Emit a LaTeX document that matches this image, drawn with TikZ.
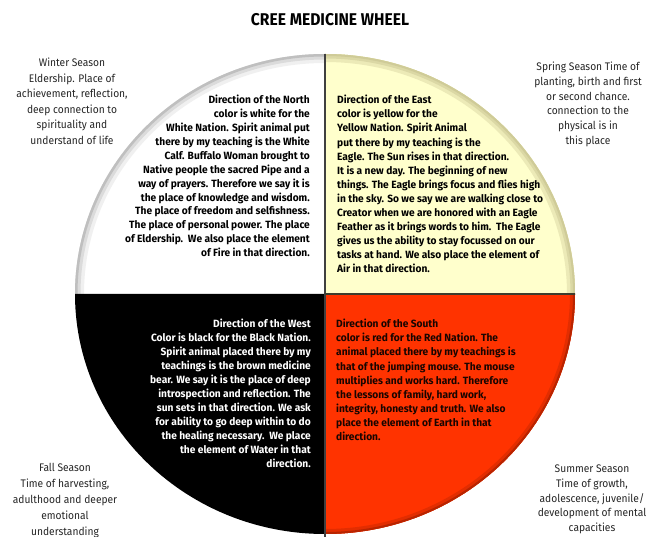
\documentclass[tikz,border=0pt]{standalone}
\usepackage{fontspec}
\setmainfont{Fira Sans}
\newfontfamily\qfont[FakeStretch=0.97]{Fira Sans}
\newfontfamily\sfont[FakeStretch=0.93]{Fira Sans}
\newfontfamily\tfont[FakeStretch=0.92]{Fira Sans}
\definecolor{wyellow}{HTML}{FFFFCC}
\definecolor{wred}{HTML}{FF3300}
\definecolor{wkhaki}{HTML}{CFCB98}
\definecolor{wdred}{HTML}{B82400}
\begin{document}
\begin{tikzpicture}[x=1pt,y=-1pt,
  quad/.style={inner sep=0pt, font=\qfont\bfseries\fontsize{10.5}{13.9}\selectfont},
  season/.style={inner sep=0pt, align=center, font=\sfont\fontsize{11}{15.5}\selectfont, text=black!85},
  divider/.style={draw=black!75, line width=1.6pt}]
\useasboundingbox[fill=white] (0,0) rectangle (646,537);
\coordinate (c) at (325,294);
% quadrants
\fill[white] (c) -- (75,294) arc[start angle=180,end angle=270,x radius=250,y radius=240] -- cycle;
\begin{scope}
  \clip (c) -- (75,294) arc[start angle=180,end angle=270,x radius=250,y radius=240] -- cycle;
  \draw[gray!12, line width=18pt] (c) ellipse[x radius=250,y radius=240];
  \draw[gray!28, line width=11pt] (c) ellipse[x radius=250,y radius=240];
  \draw[gray!50, line width=5pt] (c) ellipse[x radius=250,y radius=240];
\end{scope}
\fill[wyellow] (c) -- (575,294) arc[start angle=0,end angle=-90,x radius=250,y radius=240] -- cycle;
\begin{scope}
  \clip (c) -- (575,294) arc[start angle=0,end angle=-90,x radius=250,y radius=240] -- cycle;
  \draw[wkhaki!40!wyellow, line width=16pt] (c) ellipse[x radius=250,y radius=240];
  \draw[wkhaki!75!wyellow, line width=9pt] (c) ellipse[x radius=250,y radius=240];
  \draw[wkhaki, line width=4pt] (c) ellipse[x radius=250,y radius=240];
\end{scope}
\fill[black] (c) -- (75,294) arc[start angle=180,end angle=90,x radius=250,y radius=240] -- cycle;
\fill[wred] (c) -- (575,294) arc[start angle=0,end angle=90,x radius=250,y radius=240] -- cycle;
\begin{scope}
  \clip (c) -- (575,294) arc[start angle=0,end angle=90,x radius=250,y radius=240] -- cycle;
  \draw[wdred!40!wred, line width=10pt] (c) ellipse[x radius=250,y radius=240];
  \draw[wdred, line width=4pt] (c) ellipse[x radius=250,y radius=240];
\end{scope}
% dividers
\coordinate (top) at (325,54);
\coordinate (bot) at (325,537);
\coordinate (lft) at (325,294);
\coordinate (rgt) at (575,294);
\draw[divider] (top) -- (bot);
\draw[draw=black!70!wkhaki, line width=1.6pt] (lft) -- (rgt);
% title
\node[inner sep=0pt, font=\tfont\bfseries\fontsize{17}{19}\selectfont] (title) at (330,20) {CREE MEDICINE WHEEL};
% quadrant texts
\node[quad, anchor=north east, align=right] (north) at (310,95) {Direction of the North\\
color is white for the\\
White Nation. Spirit animal put\\
there by my teaching is the White\\
Calf. Buffalo Woman brought to\\
Native people the sacred Pipe and a\\
way of prayers. Therefore we say it is\\
the place of knowledge and wisdom.\\
The place of freedom and selfishness.\\
The place of personal power. The place\\
of Eldership.\ \ We also place the element\\
of Fire in that direction.};
\node[quad, anchor=north west, align=left, font=\qfont\bfseries\fontsize{10.5}{14.1}\selectfont] (east) at (337,95) {Direction of the East\\
color is yellow for the\\
Yellow Nation. Spirit Animal\\
put there by my teaching is the\\
Eagle. The Sun rises in that direction.\\
It is a new day. The beginning of new\\
things. The Eagle brings focus and flies high\\
in the sky. So we say we are walking close to\\
Creator when we are honored with an Eagle\\
Feather as it brings words to him.\ \ The Eagle\\
gives us the ability to stay focussed on our\\
tasks at hand. We also place the element of\\
Air in that direction.};
\node[quad, anchor=north east, align=right, text=white, font=\qfont\bfseries\fontsize{10.5}{14}\selectfont] (west) at (311,319) {Direction of the West\\
Color is black for the Black Nation.\\
Spirit animal placed there by my\\
teachings is the brown medicine\\
bear. We say it is the place of deep\\
introspection and reflection. The\\
sun sets in that direction. We ask\\
for ability to go deep within to do\\
the healing necessary.\ \ We place\\
the element of Water in that\\
direction.};
\node[quad, anchor=north west, align=left, text=black!90!wred, font=\qfont\bfseries\fontsize{10.5}{14.1}\selectfont] (south) at (336,319) {Direction of the South\\
color is red for the Red Nation. The\\
animal placed there by my teachings is\\
that of the jumping mouse. The mouse\\
multiplies and works hard. Therefore\\
the lessons of family, hard work,\\
integrity, honesty and truth. We also\\
place the element of Earth in that\\
direction.};
% season texts
\node[season, anchor=north] (winter) at (72,58) {Winter Season\\
Eldership. Place of\\
achievement, reflection,\\
deep connection to\\
spirituality and\\
understand of life};
\node[season, anchor=north, font=\sfont\fontsize{11}{14.7}\selectfont] (spring) at (588,62) {Spring Season Time of\\
planting, birth and first\\
or second chance.\\
connection to the\\
physical is in\\
this place};
\node[season, anchor=north, font=\sfont\fontsize{11}{16}\selectfont] (fall) at (65,463) {Fall Season\\
Time of harvesting,\\
adulthood and deeper\\
emotional\\
understanding};
\node[season, anchor=north, font=\sfont\fontsize{11}{14.6}\selectfont] (summer) at (592,465) {Summer Season\\
Time of growth,\\
adolescence, juvenile/\\
development of mental\\
capacities};
\end{tikzpicture}
\end{document}
